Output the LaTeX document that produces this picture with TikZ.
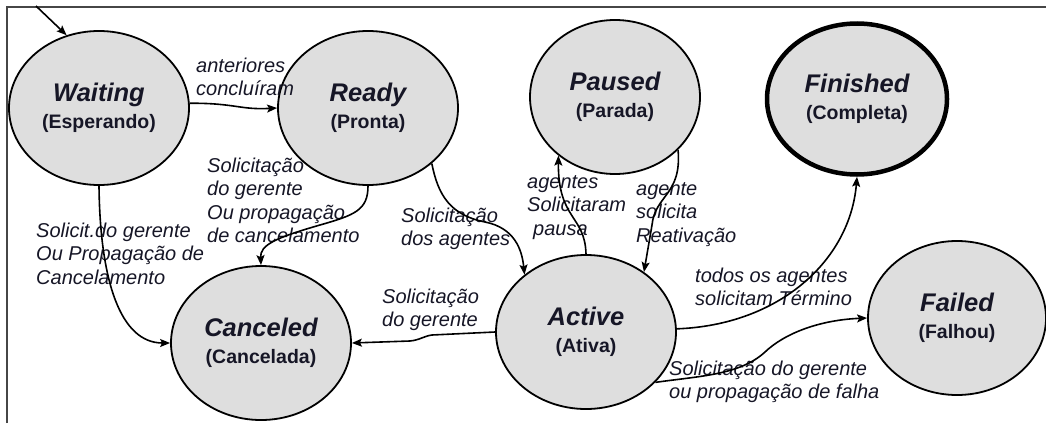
\documentclass[tikz,border=0pt]{standalone}
\usepackage{fontspec}
\setmainfont{Liberation Sans}
\usetikzlibrary{shapes.geometric,arrows.meta}
\definecolor{ink}{RGB}{22,22,38}
\definecolor{statefill}{RGB}{222,222,222}
\definecolor{framec}{RGB}{70,70,70}
\tikzset{
  state/.style={ellipse, draw=black, fill=statefill, line width=1.8pt,
    minimum width=180pt, minimum height=154pt, inner sep=0pt, align=center,
    text=ink, font=\fontsize{19.5}{27}\selectfont\bfseries},
  final/.style={state, line width=4.5pt, minimum width=180pt, minimum height=151pt},
  trans/.style={line width=1.6pt, -{Stealth[length=10pt,width=8pt,inset=2pt]}},
  lbl/.style={anchor=north west, inner sep=0pt, align=left, text=ink,
    font=\fontsize{20}{23.5}\selectfont\itshape},
}
\newcommand{\statetext}[2]{{\fontsize{25.5}{27}\selectfont\bfseries\itshape #1}\\#2}
\begin{document}
\begin{tikzpicture}[x=1pt,y=-1pt]
  \useasboundingbox (0,0) rectangle (1046,423);
  % frame lines (top and left)
  \draw[framec, line width=1.5pt] (7,423) -- (7,7) -- (1046,7);

  % states
  \node[state] (waiting)  at (99,108)  {\statetext{Waiting}{(Esperando)}};
  \node[state] (ready)    at (368,108) {\statetext{Ready}{(Pronta)}};
  \node[state, minimum width=170pt] (paused) at (615,97) {\statetext{Paused}{(Parada)}};
  \node[final] (finished) at (857,99)  {\statetext{Finished}{(Completa)}};
  \node[state] (canceled) at (261,343) {\statetext{Canceled}{(Cancelada)}};
  \node[state] (active)   at (586,332) {\statetext{Active}{(Ativa)}};
  \node[state, minimum width=178pt] (failed) at (957,318) {\statetext{Failed}{(Falhou)}};

  % transition labels
  \node[lbl] (l-wr) at (196,55.5)  {\strut anteriores\\concluíram};
  \node[lbl] (l-wc) at (36,220.5)  {\strut Solicit.do gerente\\Ou Propagação de\\Cancelamento};
  \node[lbl] (l-rc) at (207,155.5) {\strut Solicitação\\do gerente\\Ou propagação\\de cancelamento};
  \node[lbl] (l-ra) at (401,205.5) {\strut Solicitação\\dos agentes};
  \node[lbl] (l-ap) at (527,171.5) {\strut agentes\\Solicitaram\\\hspace*{6pt}pausa};
  \node[lbl] (l-pa) at (636,178.5) {\strut agente\\solicita\\Reativação};
  \node[lbl] (l-af) at (695,265.5) {\strut todos os agentes\\solicitam Término};
  \node[lbl] (l-ac) at (382,286.5) {\strut Solicitação\\do gerente};
  \node[lbl] (l-ax) at (669,358.5) {\strut Solicitação do gerente\\ou propagação de falha};

  % transitions
  \coordinate (entry) at (36,6);
  \draw[trans] (entry) -- (waiting.114);
  \draw[trans] (waiting.3) .. controls (235,103) and (240,110) .. (ready.180);
  \draw[trans] (waiting.270) .. controls (100,280) and (120,343) .. (canceled.180);
  \draw[trans] (ready.270) .. controls (368,210) and (355,215) .. (320,225)
               .. controls (275,238) and (260,245) .. (canceled.90);
  \draw[trans] (ready.-41) .. controls (438,195) and (450,215) .. (485,222)
               .. controls (515,228) and (522,250) .. (active.137);
  \draw[trans] (active.90) .. controls (585,215) and (558,220) .. (paused.226);
  \draw[trans] (paused.-40) .. controls (682,195) and (655,195) .. (652,225) -- (active.46);
  \draw[trans] (active.2) .. controls (780,325) and (850,260) .. (finished.270);
  \draw[trans] (active.-36) .. controls (700,376) and (740,375) .. (765,352)
               .. controls (785,333) and (820,320) .. (failed.180);
  \draw[trans] (active.180) -- (432,335) .. controls (424,336) and (420,340) .. (410,341) -- (canceled.0);
\end{tikzpicture}
\end{document}
